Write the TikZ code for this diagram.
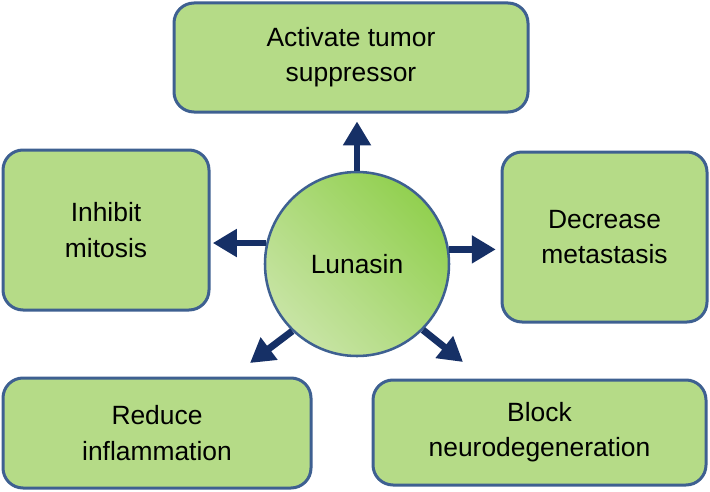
\documentclass[tikz,border=0pt]{standalone}
\usepackage{fontspec}
\setmainfont{Liberation Sans}
\usetikzlibrary{arrows.meta}

\definecolor{boxfill}{RGB}{181,219,135}
\definecolor{boxline}{RGB}{62,96,145}
\definecolor{arrowblue}{RGB}{22,48,102}
\definecolor{palegreen}{RGB}{200,228,165}
\definecolor{deepgreen}{RGB}{146,208,80}

\begin{document}
\begin{tikzpicture}[x=.75pt, y=-.75pt,
    every node/.style={
        font=\fontsize{19.8}{26.5}\selectfont,
        align=center,
        inner sep=0pt},
    effect/.style={
        draw=boxline,
        line width=2.25pt,
        fill=boxfill,
        rounded corners=15pt},
    arr/.style={
        draw=arrowblue,
        line width=5.2pt,
        -{Triangle[width=20pt,length=18pt]}}]

    \useasboundingbox (0,0) rectangle (710,492);

    \node[circle, draw=boxline, line width=1.9pt, minimum size=138pt,
        top color=deepgreen, bottom color=palegreen, shading angle=-45]
        (lun) at (357,264) {Lunasin};

    \node[effect, minimum width=265.5pt, minimum height=81.75pt] (act) at (351,57.5) {Activate tumor\\suppressor};
    \node[effect, minimum width=154.5pt, minimum height=120pt] (mit) at (106,230) {Inhibit\\mitosis};
    \node[effect, minimum width=153.75pt, minimum height=127.5pt] (met) at (604.5,237) {Decrease\\metastasis};
    \node[effect, minimum width=231pt, minimum height=82.5pt] (inf) at (157,433) {Reduce\\inflammation};
    \node[effect, minimum width=249.75pt, minimum height=78.75pt] (neu) at (539.5,432.5) {Block\\neurodegeneration};

    \coordinate (tipU) at ([yshift=37pt]lun.90);
    \coordinate (tipL) at ([xshift=-40pt]lun.167);
    \coordinate (tipR) at ([xshift=35pt]lun.9);
    \coordinate (tipLL) at (250,363);
    \coordinate (tipLR) at (463,362);

    \draw[arr] (lun.90) -- (tipU);
    \draw[arr] (lun.167) -- (tipL);
    \draw[arr] (lun.9) -- (tipR);
    \draw[arr] (lun.226) -- (tipLL);
    \draw[arr] (lun.315) -- (tipLR);
\end{tikzpicture}
\end{document}
